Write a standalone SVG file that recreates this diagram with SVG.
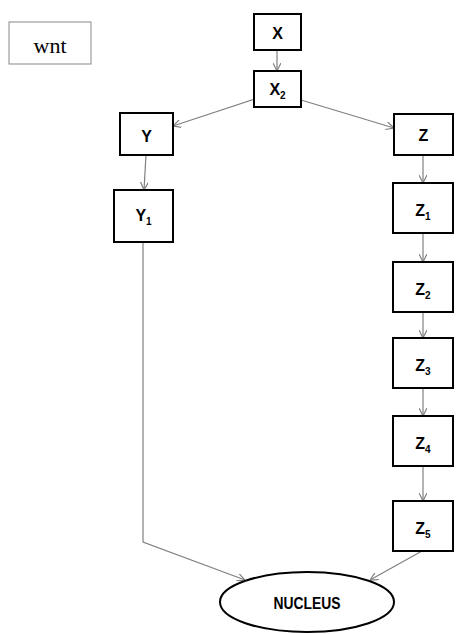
<svg xmlns="http://www.w3.org/2000/svg" width="468" height="634" viewBox="0 0 468 634">
<defs>
<style>
.box{fill:#fff;stroke:#000;stroke-width:2}
.lbl{font-family:"Liberation Sans",Arial,sans-serif;font-weight:bold;font-size:16px;text-anchor:middle;fill:#000}
.sub{font-size:10px}
.con{fill:none;stroke:#808080;stroke-width:1.2;marker-end:url(#ah)}
</style>
<marker id="ah" viewBox="0 0 10 10" refX="10" refY="5" markerWidth="8" markerHeight="8" markerUnits="userSpaceOnUse" orient="auto">
<path d="M0,0 L10,5 L0,10" fill="none" stroke="#808080" stroke-width="1.5"/>
</marker>
</defs>
<rect width="468" height="634" fill="#fff"/>
<g id="connectors">
<line class="con" x1="277" y1="50" x2="277" y2="71"/>
<line class="con" x1="270" y1="94" x2="173" y2="126"/>
<line class="con" x1="301" y1="100" x2="394" y2="128"/>
<line class="con" x1="146" y1="155" x2="144" y2="190"/>
<polyline class="con" points="143,242 143,542 245,580"/>
<line class="con" x1="423" y1="155" x2="423" y2="183"/>
<line class="con" x1="423" y1="233" x2="423" y2="262"/>
<line class="con" x1="423" y1="312" x2="423" y2="338"/>
<line class="con" x1="423" y1="388" x2="423" y2="416"/>
<line class="con" x1="423" y1="466" x2="423" y2="501"/>
<line class="con" x1="422" y1="551" x2="370" y2="580"/>
</g>
<g id="wnt">
<rect x="9" y="22" width="82" height="42" fill="#fff" stroke="#888" stroke-width="1"/>
<text x="50" y="53" font-family="Liberation Serif,Times New Roman,serif" font-size="22" text-anchor="middle">wnt</text>
</g>
<g id="X">
<rect class="box" x="254" y="14" width="47" height="36"/>
<text class="lbl" x="277.5" y="39">X</text>
</g>
<g id="X2">
<rect class="box" x="254" y="71" width="47" height="36"/>
<text class="lbl" x="277.5" y="95">X<tspan class="sub" dy="4">2</tspan></text>
</g>
<g id="Y">
<rect class="box" x="120" y="113" width="53" height="42"/>
<text class="lbl" x="146.5" y="142">Y</text>
</g>
<g id="Y1">
<rect class="box" x="114" y="190" width="59" height="52"/>
<text class="lbl" x="143.5" y="221">Y<tspan class="sub" dy="4">1</tspan></text>
</g>
<g id="Z">
<rect class="box" x="394" y="114" width="59" height="41"/>
<text class="lbl" x="423.5" y="141">Z</text>
</g>
<g id="Z1">
<rect class="box" x="393" y="183" width="60" height="50"/>
<text class="lbl" x="423" y="216">Z<tspan class="sub" dy="4">1</tspan></text>
</g>
<g id="Z2">
<rect class="box" x="393" y="262" width="60" height="50"/>
<text class="lbl" x="423" y="295">Z<tspan class="sub" dy="4">2</tspan></text>
</g>
<g id="Z3">
<rect class="box" x="393" y="338" width="60" height="50"/>
<text class="lbl" x="423" y="371">Z<tspan class="sub" dy="4">3</tspan></text>
</g>
<g id="Z4">
<rect class="box" x="393" y="416" width="60" height="50"/>
<text class="lbl" x="423" y="449">Z<tspan class="sub" dy="4">4</tspan></text>
</g>
<g id="Z5">
<rect class="box" x="393" y="501" width="60" height="50"/>
<text class="lbl" x="423" y="534">Z<tspan class="sub" dy="4">5</tspan></text>
</g>
<g id="nucleus">
<ellipse class="box" cx="307" cy="602" rx="87" ry="30"/>
<text class="lbl" x="307" y="609" textLength="67" lengthAdjust="spacingAndGlyphs">NUCLEUS</text>
</g>
</svg>
